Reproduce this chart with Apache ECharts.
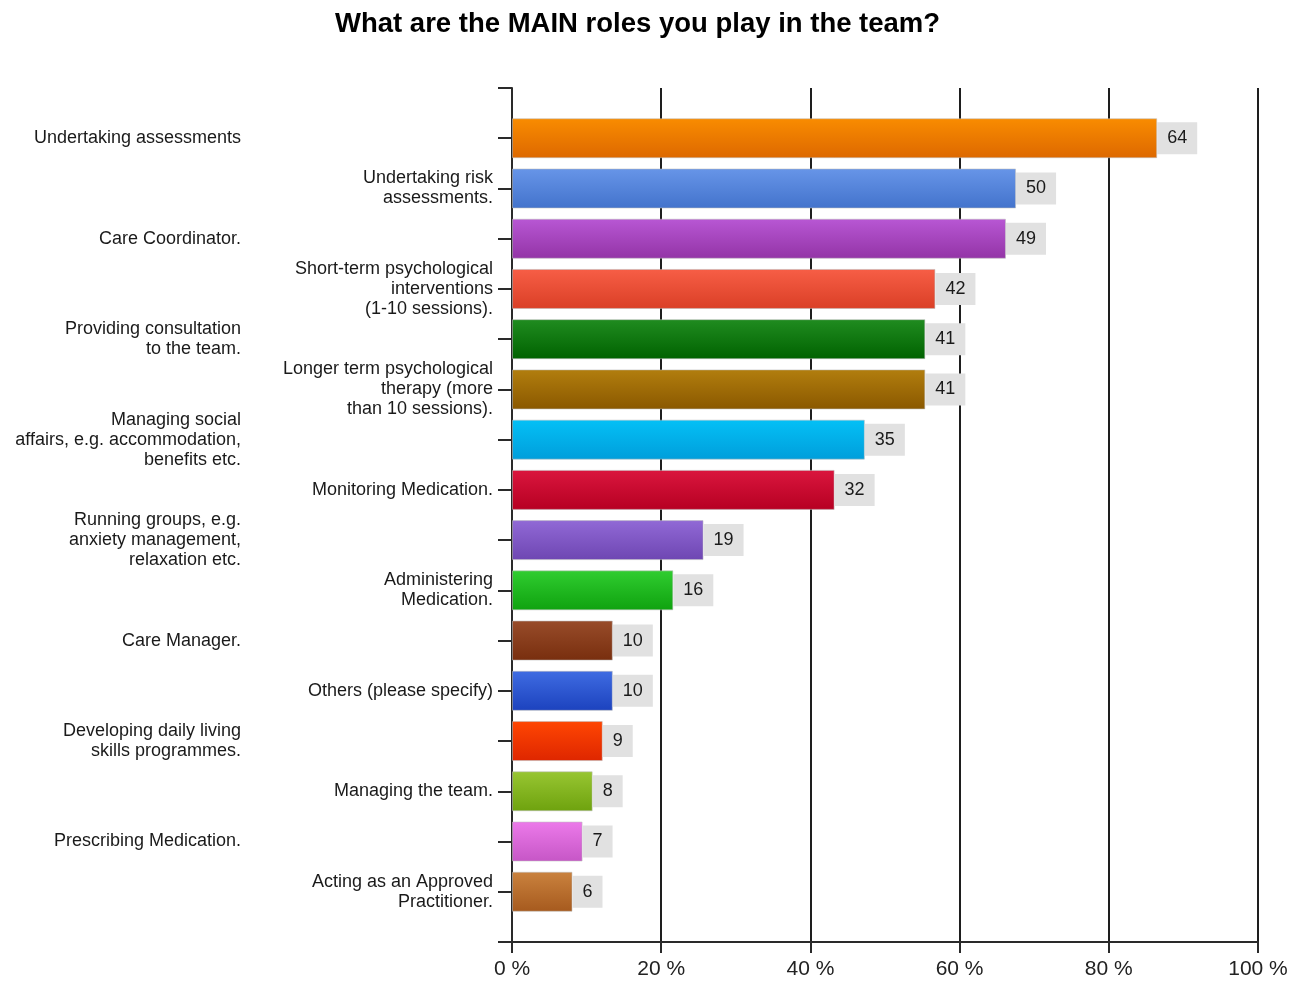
<!DOCTYPE html>
<html>
<head>
<meta charset="utf-8">
<title>What are the MAIN roles you play in the team?</title>
<script src="https://cdn.jsdelivr.net/npm/echarts@6/dist/echarts.min.js"></script>
<style>
  html, body { margin: 0; padding: 0; background: #ffffff; }
  #chart { width: 1306px; height: 983px; }
</style>
</head>
<body>
<div id="chart"></div>
<script>
// Survey question: main roles played in the team (multiple answers allowed)
const titleText = 'What are the MAIN roles you play in the team?';

const roles = [
  'Undertaking assessments',
  'Undertaking risk\nassessments.',
  'Care Coordinator.',
  'Short-term psychological\ninterventions\n(1-10 sessions).',
  'Providing consultation\nto the team.',
  'Longer term psychological\ntherapy (more\nthan 10 sessions).',
  'Managing social\naffairs, e.g. accommodation,\nbenefits etc.',
  'Monitoring Medication.',
  'Running groups, e.g.\nanxiety management,\nrelaxation etc.',
  'Administering\nMedication.',
  'Care Manager.',
  'Others (please specify)',
  'Developing daily living\nskills programmes.',
  'Managing the team.',
  'Prescribing Medication.',
  'Acting as an Approved\nPractitioner.'
];

// Number of respondents choosing each role
const counts = [64, 50, 49, 42, 41, 41, 35, 32, 19, 16, 10, 10, 9, 8, 7, 6];

// Total respondents to the question (bars are drawn as a share of this)
const respondents = 74;

// Percentage axis ticks
const xTicks = [0, 20, 40, 60, 80, 100];

// Top / bottom colour of each bar's gradient
const barColors = [
  ['#f98c00', '#dd6800'],
  ['#6795e8', '#4373cc'],
  ['#b857d4', '#9334a6'],
  ['#f75e46', '#da3f26'],
  ['#208c20', '#006200'],
  ['#b27e0e', '#8a5800'],
  ['#04c0f6', '#009edb'],
  ['#da163e', '#b60022'],
  ['#9169d6', '#6e46b2'],
  ['#30cd30', '#0fa20f'],
  ['#984c2a', '#782e0e'],
  ['#3f6ce2', '#1c42be'],
  ['#ff4602', '#de2600'],
  ['#98c632', '#6ea20e'],
  ['#ec7aea', '#c656c6'],
  ['#ca823e', '#a65a1e']
];

// Category axis with an empty slot at each end so the axis line runs half a band past the bars
const axisCats = [''].concat(roles, ['']);

const seriesData = counts.map(function (c, i) {
  return {
    value: c / respondents * 100,
    count: c,
    itemStyle: {
      color: new echarts.graphic.LinearGradient(0, 0, 0, 1, [
        { offset: 0, color: barColors[i][0] },
        { offset: 1, color: barColors[i][1] }
      ])
    }
  };
});
// Offset by one to sit on the padded category axis
const barData = [null].concat(seriesData, [null]);

const labelFont = {
  fontFamily: '"Liberation Sans", Arial, sans-serif',
  fontSize: 18,
  lineHeight: 20,
  color: '#1a1a1a',
  align: 'right',
  backgroundColor: 'rgba(255,255,255,0)',
  padding: [5, 0, 0, 0]
};

const chart = echarts.init(document.getElementById('chart'), null, { renderer: 'canvas' });

chart.setOption({
  animation: false,
  backgroundColor: '#ffffff',
  title: {
    text: titleText,
    left: 335,
    top: 10,
    padding: 0,
    textStyle: {
      fontFamily: '"Liberation Sans", Arial, sans-serif',
      fontWeight: 'bold',
      fontSize: 27.5,
      color: '#000000'
    }
  },
  grid: {
    left: 512,
    right: 48,
    top: 88,
    bottom: 41,
    containLabel: false
  },
  xAxis: {
    type: 'value',
    min: xTicks[0],
    max: xTicks[xTicks.length - 1],
    interval: xTicks[1] - xTicks[0],
    axisLine: { show: true, lineStyle: { color: '#2a2a2a', width: 2 } },
    axisTick: { show: true, length: 11, lineStyle: { color: '#2a2a2a', width: 2 } },
    splitLine: { show: true, lineStyle: { color: '#1e1e1e', width: 2 } },
    axisLabel: {
      margin: 17,
      fontFamily: '"Liberation Sans", Arial, sans-serif',
      fontSize: 21,
      color: '#222222',
      formatter: function (v) { return v + ' %'; }
    }
  },
  yAxis: [
    {
      // near column of labels (odd rows) plus the axis line and ticks
      type: 'category',
      data: axisCats,
      inverse: true,
      boundaryGap: false,
      axisLine: { show: true, onZero: false, lineStyle: { color: '#2a2a2a', width: 2 } },
      axisTick: { show: true, length: 14, interval: 0, lineStyle: { color: '#2a2a2a', width: 2 } },
      splitLine: { show: false },
      axisLabel: Object.assign({
        interval: 0,
        margin: 19,
        formatter: function (v, idx) { return (idx >= 1 && idx <= roles.length && (idx - 1) % 2 === 1) ? v : ''; }
      }, labelFont)
    },
    {
      // far column of labels (even rows)
      type: 'category',
      data: axisCats,
      inverse: true,
      boundaryGap: false,
      position: 'left',
      axisLine: { show: false },
      axisTick: { show: false },
      splitLine: { show: false },
      axisLabel: Object.assign({
        interval: 0,
        margin: 271,
        formatter: function (v, idx) { return (idx >= 1 && idx <= roles.length && (idx - 1) % 2 === 0) ? v : ''; }
      }, labelFont)
    }
  ],
  series: [
    {
      type: 'bar',
      yAxisIndex: 0,
      data: barData,
      barWidth: 40,
      itemStyle: { borderColor: 'rgba(190,190,190,0.55)', borderWidth: 1 },
      label: {
        show: true,
        position: 'right',
        distance: 0,
        formatter: function (p) { return p.data ? String(p.data.count) : ''; },
        backgroundColor: '#e1e1e1',
        padding: [8, 10, 5, 10],
        fontFamily: '"Liberation Sans", Arial, sans-serif',
        fontSize: 18,
        lineHeight: 19,
        color: '#1a1a1a'
      }
    }
  ]
});
</script>
</body>
</html>
